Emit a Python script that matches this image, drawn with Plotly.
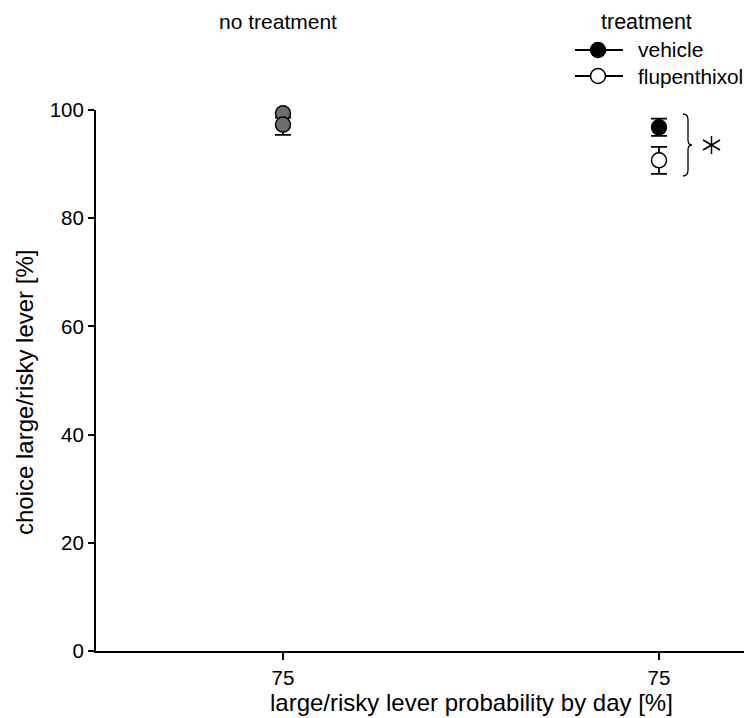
import plotly.graph_objects as go

# ---- data ----
x_positions = [0, 1]
x_tick_labels = ["75", "75"]
y_ticks = [0, 20, 40, 60, 80, 100]

no_treatment_x = [0, 0]
no_treatment_mean = [99.4, 97.3]
no_treatment_sem = [0.8, 1.9]

vehicle_x = [1]
vehicle_mean = [96.8]
vehicle_sem = [1.6]

flupenthixol_x = [1]
flupenthixol_mean = [90.7]
flupenthixol_sem = [2.5]

# ---- layout geometry (pixels) ----
W, H = 744, 718
L, R, T, B = 96, 744, 110, 651
PW, PH = R - L, B - T


def px(xp):
    return (xp - L) / PW


def py(yp):
    return (B - yp) / PH


FONT = "Liberation Sans, Arial, sans-serif"

fig = go.Figure()

err_style = dict(type="data", thickness=1.8, width=8, color="black")

fig.add_trace(go.Scatter(
    x=no_treatment_x, y=no_treatment_mean, mode="markers",
    marker=dict(size=15, color="#6e6e6e", line=dict(color="black", width=1.5)),
    error_y=dict(array=no_treatment_sem, **err_style),
    cliponaxis=False, showlegend=False, name="no treatment"))

fig.add_trace(go.Scatter(
    x=vehicle_x, y=vehicle_mean, mode="markers",
    marker=dict(size=15, color="black", line=dict(color="black", width=1.5)),
    error_y=dict(array=vehicle_sem, **err_style),
    cliponaxis=False, showlegend=False, name="vehicle"))

fig.add_trace(go.Scatter(
    x=flupenthixol_x, y=flupenthixol_mean, mode="markers",
    marker=dict(size=15, color="white", line=dict(color="black", width=1.5)),
    error_y=dict(array=flupenthixol_sem, **err_style),
    cliponaxis=False, showlegend=False, name="flupenthixol"))

shapes = []
# legend entries
for yy, fill in [(50, "black"), (76, "white")]:
    shapes.append(dict(type="line", xref="paper", yref="paper",
                       x0=px(575), x1=px(623), y0=py(yy), y1=py(yy),
                       line=dict(color="black", width=1.8)))
    shapes.append(dict(type="circle", xref="paper", yref="paper",
                       x0=px(598 - 7.5), x1=px(598 + 7.5),
                       y0=py(yy + 7.5), y1=py(yy - 7.5),
                       fillcolor=fill, line=dict(color="black", width=1.5)))

# brace
pts = [(683, 114), (688, 114), (688, 120), (688, 140), (688, 145), (692, 145),
       (688, 145), (688, 150), (688, 170), (688, 176), (683, 176)]
p = [(px(a), py(b)) for a, b in pts]
path = (f"M {p[0][0]},{p[0][1]} Q {p[1][0]},{p[1][1]} {p[2][0]},{p[2][1]} "
        f"L {p[3][0]},{p[3][1]} Q {p[4][0]},{p[4][1]} {p[5][0]},{p[5][1]} "
        f"Q {p[6][0]},{p[6][1]} {p[7][0]},{p[7][1]} "
        f"L {p[8][0]},{p[8][1]} Q {p[9][0]},{p[9][1]} {p[10][0]},{p[10][1]}")
shapes.append(dict(type="path", xref="paper", yref="paper", path=path,
                   line=dict(color="black", width=1.3)))

# asterisk
for (a, b, c, d) in [(711.5, 136, 711.5, 154), (703, 140, 720, 150), (703, 150, 720, 140)]:
    shapes.append(dict(type="line", xref="paper", yref="paper",
                       x0=px(a), y0=py(b), x1=px(c), y1=py(d),
                       line=dict(color="black", width=1.5)))

annotations = [
    dict(text="no treatment", x=px(278), y=py(22), xanchor="center", yanchor="middle", size=21),
    dict(text="treatment", x=px(646), y=py(22), xanchor="center", yanchor="middle", size=21.5),
    dict(text="vehicle", x=px(636), y=py(50), xanchor="left", yanchor="middle", size=21),
    dict(text="flupenthixol", x=px(636), y=py(76), xanchor="left", yanchor="middle", size=20.8),
    dict(text="large/risky lever probability by day [%]", x=px(471), y=py(703),
         xanchor="center", yanchor="middle", size=24),
    dict(text="choice large/risky lever [%]", x=px(24), y=py(393),
         xanchor="center", yanchor="middle", size=24, textangle=-90),
]
for a in annotations:
    s = a.pop("size")
    a.update(xref="paper", yref="paper", showarrow=False,
             font=dict(family=FONT, size=s, color="black"))

fig.update_layout(
    width=W, height=H,
    margin=dict(l=L, r=W - R, t=T, b=H - B, pad=0),
    paper_bgcolor="white", plot_bgcolor="white",
    font=dict(family=FONT, size=20.5, color="black"),
    shapes=shapes, annotations=annotations, showlegend=False,
    xaxis=dict(range=[(L - 283) / 376, (R - 283) / 376],
               tickvals=x_positions, ticktext=x_tick_labels,
               showline=True, linecolor="black", linewidth=2,
               ticks="outside", ticklen=7, tickwidth=2, tickcolor="black",
               showgrid=False, zeroline=False,
               tickfont=dict(family=FONT, size=20.5)),
    yaxis=dict(range=[0, 100], tickvals=y_ticks,
               showline=True, linecolor="black", linewidth=2,
               ticks="outside", ticklen=6, tickwidth=2, tickcolor="black",
               showgrid=False, zeroline=False,
               tickfont=dict(family=FONT, size=20.5)),
)

fig.write_html("out.html", config={"displayModeBar": False},
               post_script="document.body.style.margin='0px';document.body.style.overflow='hidden';")
